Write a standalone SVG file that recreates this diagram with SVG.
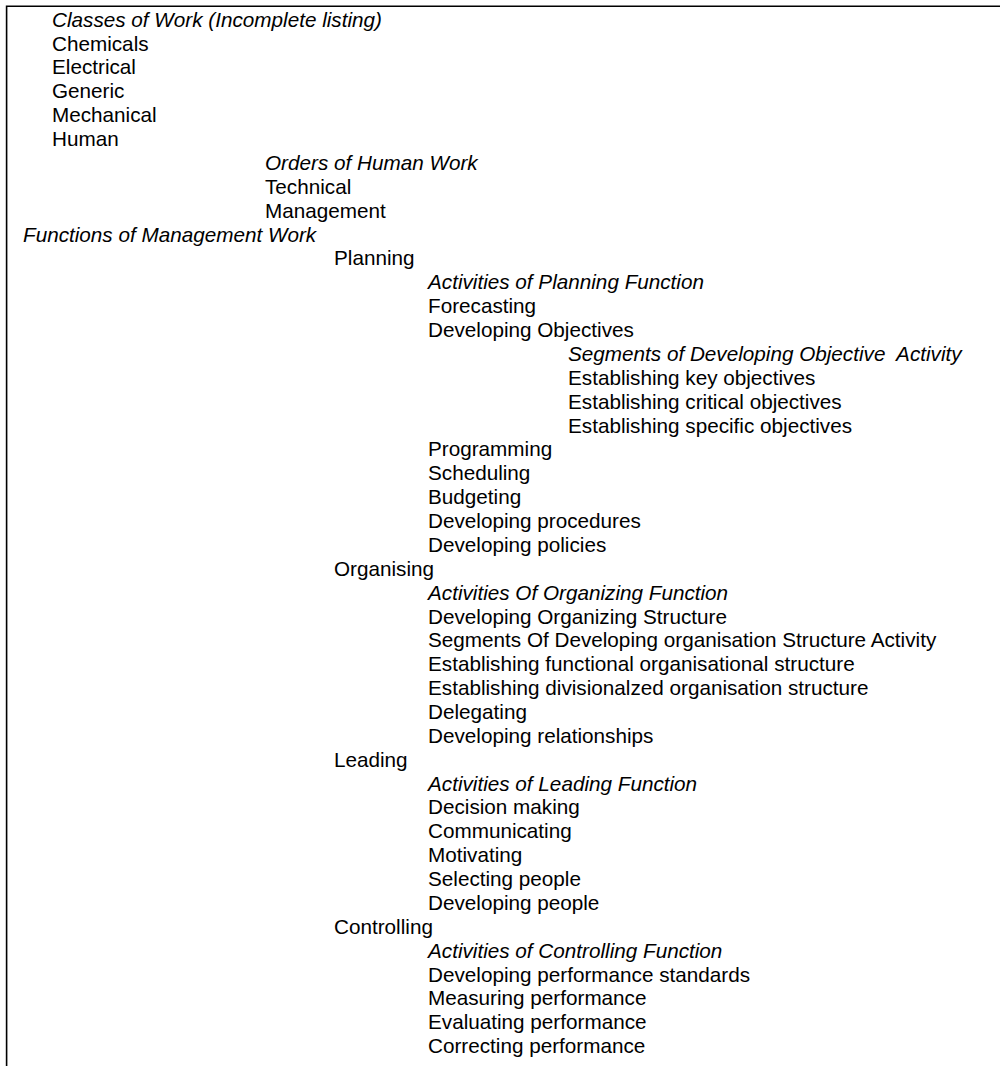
<svg xmlns="http://www.w3.org/2000/svg" width="1000" height="1066" viewBox="0 0 1000 1066">
  <style>
    text { font-family: "Liberation Sans", Arial, Helvetica, sans-serif; font-size: 20.7px; fill: #000; white-space: pre; }
    .h { font-style: italic; }
    .frame { fill: none; stroke: #000; stroke-width: 1.6; }
  </style>
  <rect width="1000" height="1066" fill="#fff"/>
  <!-- open frame: top rule and left rule -->
  <path class="frame" d="M1000 6.2 H6.6 V1066"/>

  <g id="classes">
    <text class="h" x="52" y="26.7">Classes of Work (Incomplete listing)</text>
    <text x="52" y="50.6">Chemicals</text>
    <text x="52" y="74.4">Electrical</text>
    <text x="52" y="98.3">Generic</text>
    <text x="52" y="122.2">Mechanical</text>
    <text x="52" y="146.1">Human</text>
  </g>

  <g id="orders">
    <text class="h" x="265" y="169.9">Orders of Human Work</text>
    <text x="265" y="193.8">Technical</text>
    <text x="265" y="217.7">Management</text>
  </g>

  <g id="functions">
    <text class="h" x="23" y="241.5">Functions of Management Work</text>
  </g>

  <g id="planning">
    <text x="334" y="265.4">Planning</text>
    <text class="h" x="428" y="289.3">Activities of Planning Function</text>
    <text x="428" y="313.1">Forecasting</text>
    <text x="428" y="337.0">Developing Objectives</text>
    <g id="objective-segments">
      <text class="h" x="568" y="360.9">Segments of Developing Objective  Activity</text>
      <text x="568" y="384.8">Establishing key objectives</text>
      <text x="568" y="408.6">Establishing critical objectives</text>
      <text x="568" y="432.5">Establishing specific objectives</text>
    </g>
    <text x="428" y="456.4">Programming</text>
    <text x="428" y="480.2">Scheduling</text>
    <text x="428" y="504.1">Budgeting</text>
    <text x="428" y="528.0">Developing procedures</text>
    <text x="428" y="551.8">Developing policies</text>
  </g>

  <g id="organising">
    <text x="334" y="575.7">Organising</text>
    <text class="h" x="428" y="599.6">Activities Of Organizing Function</text>
    <text x="428" y="623.5">Developing Organizing Structure</text>
    <text x="428" y="647.3">Segments Of Developing organisation Structure Activity</text>
    <text x="428" y="671.2">Establishing functional organisational structure</text>
    <text x="428" y="695.1">Establishing divisionalzed organisation structure</text>
    <text x="428" y="718.9">Delegating</text>
    <text x="428" y="742.8">Developing relationships</text>
  </g>

  <g id="leading">
    <text x="334" y="766.7">Leading</text>
    <text class="h" x="428" y="790.5">Activities of Leading Function</text>
    <text x="428" y="814.4">Decision making</text>
    <text x="428" y="838.3">Communicating</text>
    <text x="428" y="862.1">Motivating</text>
    <text x="428" y="886.0">Selecting people</text>
    <text x="428" y="909.9">Developing people</text>
  </g>

  <g id="controlling">
    <text x="334" y="933.8">Controlling</text>
    <text class="h" x="428" y="957.6">Activities of Controlling Function</text>
    <text x="428" y="981.5">Developing performance standards</text>
    <text x="428" y="1005.4">Measuring performance</text>
    <text x="428" y="1029.2">Evaluating performance</text>
    <text x="428" y="1053.1">Correcting performance</text>
  </g>
</svg>
